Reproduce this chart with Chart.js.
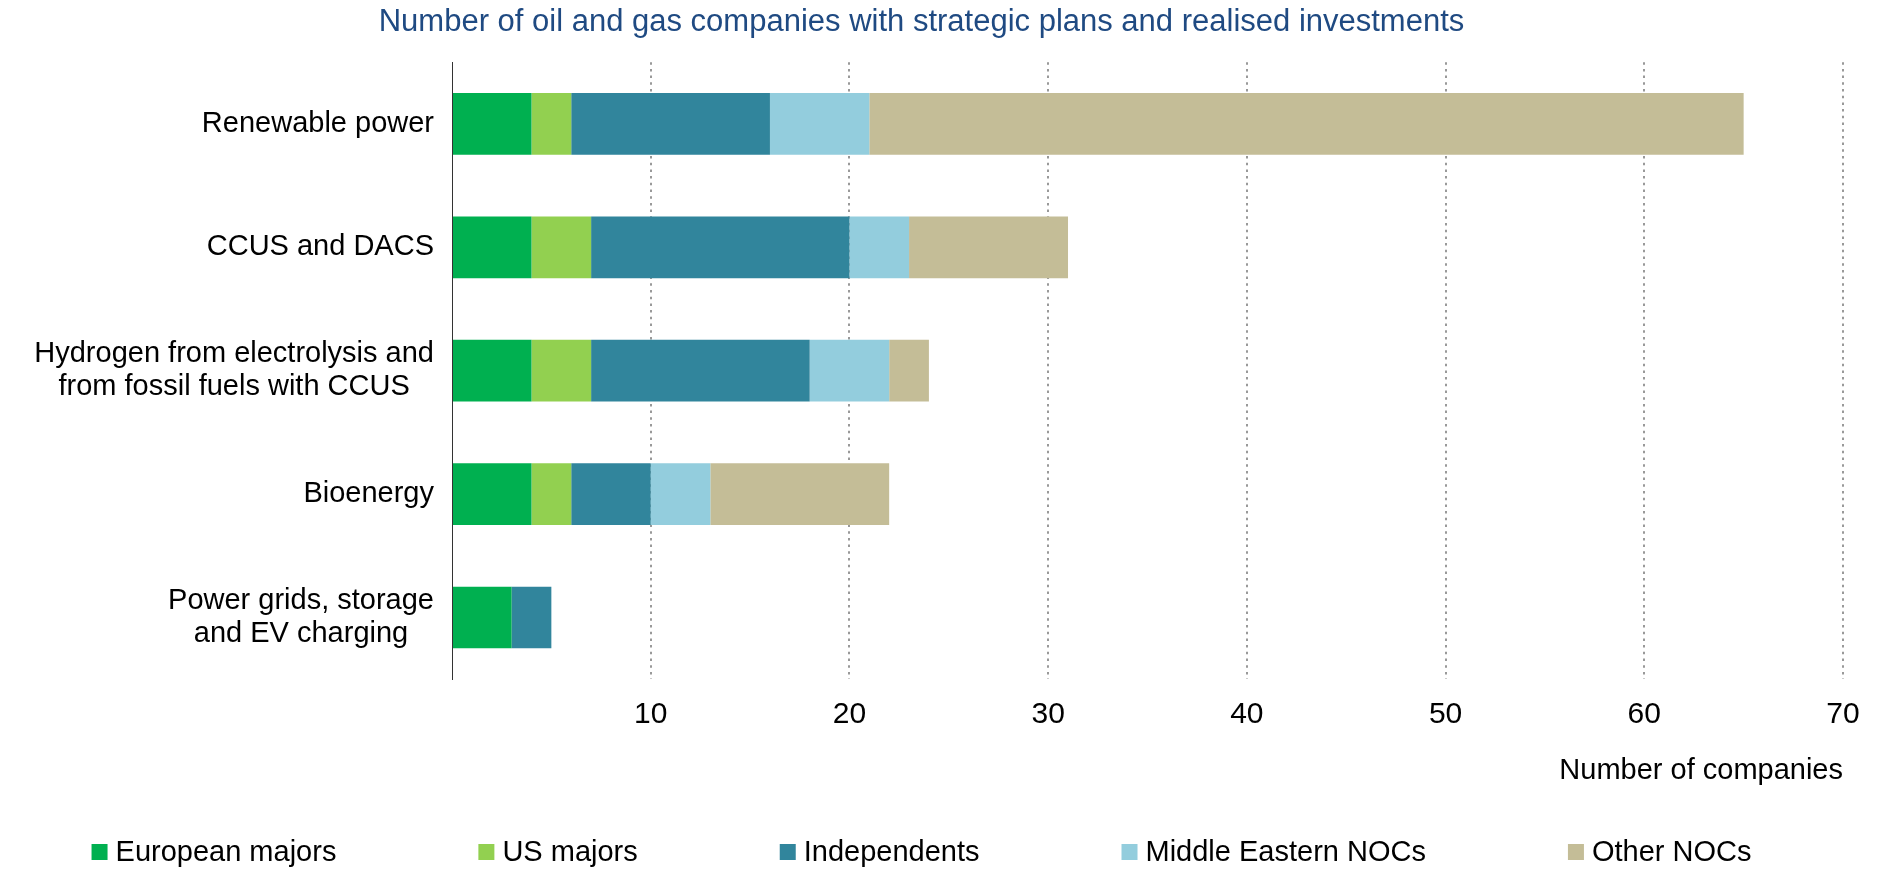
<!DOCTYPE html>
<html>
<head>
<meta charset="utf-8">
<title>Oil and gas companies – strategic plans and realised investments</title>
<script src="https://cdn.jsdelivr.net/npm/chart.js@4.4.1/dist/chart.umd.min.js"></script>
<style>
  html, body { margin: 0; padding: 0; background: #ffffff; }
  #wrap { width: 1885px; height: 869px; }
</style>
</head>
<body>
<div id="wrap"><canvas id="chart"></canvas></div>
<script>
// Data
const categories = [
    ['Renewable power'],
    ['CCUS and DACS'],
    ['Hydrogen from electrolysis and', 'from fossil fuels with CCUS'],
    ['Bioenergy'],
    ['Power grids, storage', 'and EV charging']
];
const europeanMajors    = [4, 4, 4, 4, 3];
const usMajors          = [2, 3, 3, 2, 0];
const independents      = [10, 13, 11, 4, 2];
const middleEasternNOCs = [5, 3, 4, 3, 0];
const otherNOCs         = [44, 8, 2, 9, 0];

const xMin = 0;
const xMax = 70;
const xStep = 10;

const FONT = 'Arial, "Liberation Sans", sans-serif';

const seriesColors = {
    europeanMajors: '#00B050',
    usMajors: '#92D050',
    independents: '#31859C',
    middleEasternNOCs: '#93CDDD',
    otherNOCs: '#C4BD97'
};

Chart.defaults.font.family = FONT;
Chart.defaults.color = '#000000';

/**
 * Category labels: block flush right against the axis, lines centred in the block.
 */
const categoryLabels = {
    id: 'categoryLabels',
    afterDraw(chart) {
        const ctx = chart.ctx;
        const yScale = chart.scales.y;
        const lineHeight = 33;
        ctx.save();
        ctx.font = '29px ' + FONT;
        ctx.fillStyle = '#000000';
        ctx.textAlign = 'center';
        ctx.textBaseline = 'middle';
        categories.forEach((lines, i) => {
            const y = yScale.getPixelForValue(i);
            const blockWidth = Math.max(...lines.map(l => ctx.measureText(l).width));
            const x = yScale.right - 18 - blockWidth / 2;
            lines.forEach((line, j) => {
                ctx.fillText(line, x, y + (j - (lines.length - 1) / 2) * lineHeight);
            });
        });
        ctx.restore();
    }
};

/**
 * Legend row along the bottom, centred under the title.
 */
const legendRow = {
    id: 'legendRow',
    afterDraw(chart) {
        const ctx = chart.ctx;
        const box = 16, textGap = 8, itemGap = 142;
        const cx = (chart.titleBlock.left + chart.titleBlock.right) / 2;
        const cy = chart.height - 17;
        ctx.save();
        ctx.font = '29px ' + FONT;
        ctx.textBaseline = 'middle';
        ctx.textAlign = 'left';
        const items = chart.data.datasets.map(ds => ({
            label: ds.label,
            color: ds.backgroundColor,
            w: box + textGap + ctx.measureText(ds.label).width
        }));
        const total = items.reduce((s, it) => s + it.w, 0) + itemGap * (items.length - 1);
        let x = cx - total / 2;
        items.forEach(it => {
            ctx.fillStyle = it.color;
            ctx.fillRect(x, cy - box / 2, box, box);
            ctx.fillStyle = '#000000';
            ctx.fillText(it.label, x + box + textGap, cy + 1);
            x += it.w + itemGap;
        });
        ctx.restore();
    }
};

new Chart(document.getElementById('chart'), {
    type: 'bar',
    data: {
        labels: categories.map(c => c.join(' ')),
        datasets: [
            { label: 'European majors', data: europeanMajors, backgroundColor: seriesColors.europeanMajors },
            { label: 'US majors', data: usMajors, backgroundColor: seriesColors.usMajors },
            { label: 'Independents', data: independents, backgroundColor: seriesColors.independents },
            { label: 'Middle Eastern NOCs', data: middleEasternNOCs, backgroundColor: seriesColors.middleEasternNOCs },
            { label: 'Other NOCs', data: otherNOCs, backgroundColor: seriesColors.otherNOCs }
        ]
    },
    options: {
        indexAxis: 'y',
        responsive: true,
        maintainAspectRatio: false,
        animation: false,
        layout: {
            padding: { left: 0, right: 42, top: 0, bottom: 62 }
        },
        datasets: {
            bar: { categoryPercentage: 1, barPercentage: 0.5, borderWidth: 0 }
        },
        plugins: {
            title: {
                display: true,
                text: 'Number of oil and gas companies with strategic plans and realised investments',
                color: '#1F4A82',
                font: { size: 31, weight: 'normal' },
                padding: { top: 4, bottom: 21 }
            },
            legend: { display: false },
            tooltip: { enabled: false }
        },
        scales: {
            x: {
                stacked: true,
                min: xMin,
                max: xMax,
                ticks: {
                    stepSize: xStep,
                    padding: 18,
                    color: '#000000',
                    font: { size: 30 },
                    callback: v => (v === 0 ? '' : v)
                },
                grid: {
                    color: c => (c.tick && c.tick.value === 0 ? 'rgba(0,0,0,0)' : '#999999'),
                    lineWidth: 2,
                    drawTicks: false
                },
                border: { display: false, dash: [2.5, 4.2] },
                title: {
                    display: true,
                    text: 'Number of companies',
                    align: 'end',
                    color: '#000000',
                    font: { size: 29 },
                    padding: { top: 2, bottom: 19 }
                }
            },
            y: {
                stacked: true,
                grid: { display: false, drawTicks: false },
                border: { display: true, color: '#333333', width: 1 },
                ticks: { display: false },
                afterFit: scale => { scale.width = 452; }
            }
        }
    },
    plugins: [categoryLabels, legendRow]
});
</script>
</body>
</html>
